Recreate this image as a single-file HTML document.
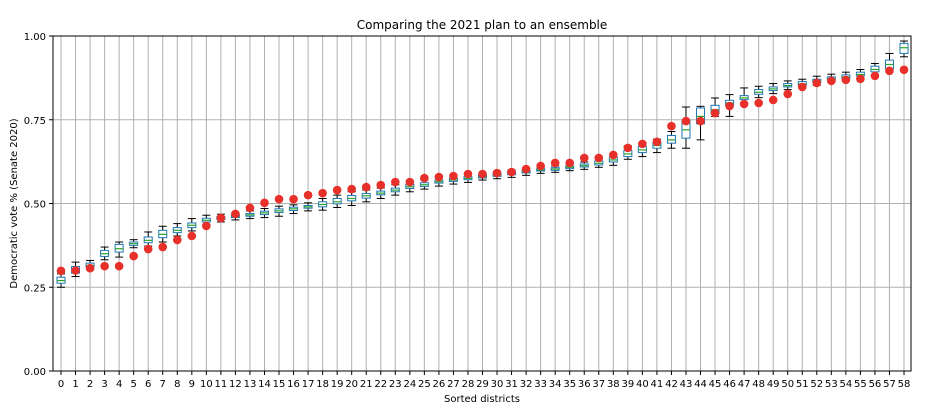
<!DOCTYPE html>
<html><head><meta charset="utf-8">
<style>
html,body{margin:0;padding:0;background:#fff;}
svg{display:block;font-family:"DejaVu Sans","Liberation Sans",sans-serif;}
</style></head>
<body>
<svg id="chart" width="942" height="418" viewBox="0 0 942 418"></svg>
<script>
const districts = [0,1,2,3,4,5,6,7,8,9,10,11,12,13,14,15,16,17,18,19,20,21,22,23,24,25,26,27,28,29,30,31,32,33,34,35,36,37,38,39,40,41,42,43,44,45,46,47,48,49,50,51,52,53,54,55,56,57,58];
const planValues = [0.299,0.300,0.307,0.313,0.313,0.343,0.364,0.370,0.391,0.403,0.433,0.457,0.469,0.487,0.502,0.513,0.513,0.525,0.531,0.540,0.543,0.549,0.555,0.564,0.564,0.576,0.579,0.582,0.588,0.588,0.591,0.594,0.603,0.612,0.621,0.621,0.636,0.636,0.645,0.666,0.678,0.684,0.731,0.746,0.746,0.770,0.791,0.797,0.800,0.809,0.827,0.848,0.860,0.866,0.869,0.872,0.881,0.896,0.899];
const medians = [0.270,0.300,0.315,0.350,0.365,0.380,0.390,0.408,0.420,0.435,0.450,0.456,0.462,0.466,0.472,0.478,0.484,0.490,0.497,0.505,0.515,0.523,0.531,0.540,0.550,0.556,0.565,0.570,0.575,0.580,0.585,0.590,0.595,0.600,0.603,0.608,0.613,0.620,0.630,0.648,0.660,0.673,0.690,0.720,0.760,0.780,0.800,0.815,0.832,0.842,0.852,0.857,0.865,0.872,0.878,0.885,0.900,0.915,0.965];
const q1 = [0.262,0.292,0.310,0.342,0.355,0.375,0.383,0.398,0.413,0.428,0.445,0.452,0.458,0.462,0.467,0.473,0.479,0.486,0.490,0.499,0.508,0.516,0.526,0.535,0.545,0.551,0.561,0.566,0.571,0.576,0.581,0.586,0.591,0.597,0.599,0.604,0.609,0.615,0.624,0.640,0.652,0.665,0.680,0.695,0.738,0.768,0.793,0.810,0.826,0.837,0.848,0.853,0.861,0.868,0.874,0.881,0.893,0.902,0.948];
const q3 = [0.280,0.312,0.322,0.360,0.378,0.385,0.400,0.420,0.428,0.442,0.456,0.461,0.466,0.470,0.477,0.484,0.489,0.494,0.505,0.515,0.524,0.530,0.537,0.546,0.557,0.562,0.570,0.575,0.580,0.585,0.590,0.595,0.600,0.604,0.607,0.612,0.618,0.627,0.638,0.658,0.670,0.682,0.703,0.748,0.785,0.793,0.808,0.822,0.840,0.848,0.858,0.864,0.871,0.878,0.884,0.892,0.910,0.928,0.978];
const whiskerLo = [0.250,0.282,0.302,0.332,0.340,0.368,0.373,0.385,0.403,0.418,0.438,0.445,0.451,0.455,0.458,0.462,0.470,0.478,0.480,0.488,0.494,0.505,0.515,0.525,0.535,0.543,0.552,0.558,0.563,0.570,0.574,0.578,0.584,0.590,0.593,0.598,0.602,0.608,0.614,0.632,0.640,0.652,0.665,0.665,0.690,0.760,0.760,0.800,0.816,0.828,0.840,0.845,0.853,0.862,0.866,0.872,0.885,0.896,0.938];
const whiskerHi = [0.290,0.325,0.330,0.370,0.385,0.392,0.415,0.432,0.440,0.455,0.465,0.468,0.472,0.478,0.485,0.492,0.496,0.502,0.515,0.525,0.535,0.540,0.546,0.556,0.567,0.570,0.578,0.583,0.587,0.592,0.596,0.600,0.604,0.608,0.612,0.618,0.624,0.634,0.646,0.672,0.682,0.692,0.715,0.788,0.790,0.815,0.825,0.845,0.850,0.858,0.866,0.871,0.880,0.886,0.892,0.900,0.918,0.948,0.985];
const yTicks = [0,0.25,0.5,0.75,1.0];
const yTickLabels = ["0.00","0.25","0.50","0.75","1.00"];

const NS="http://www.w3.org/2000/svg";
const svg=document.getElementById('chart');
const L=53,R=911,T=36,B=371;
const x0=61,x58=904;
function xs(i){return x0+(x58-x0)*i/58;}
function ys(v){return B-(B-T)*v;}
function mk(tag,attrs,parent){const e=document.createElementNS(NS,tag);for(const k in attrs)e.setAttribute(k,attrs[k]);(parent||svg).appendChild(e);return e;}

const grid=mk('g',{});


districts.forEach((d,i)=>{mk('line',{x1:xs(i),x2:xs(i),y1:T,y2:B,stroke:'#b0b0b0','stroke-width':1},grid);});
yTicks.forEach(v=>{mk('line',{x1:L,x2:R,y1:ys(v),y2:ys(v),stroke:'#b0b0b0','stroke-width':1},grid);});

const frame=mk('rect',{x:L,y:T,width:R-L,height:B-T,fill:'none',stroke:'#000','stroke-width':1});



const yAxis=mk('g',{});


yTicks.forEach((v,i)=>{
  mk('line',{x1:L-4,x2:L,y1:ys(v),y2:ys(v),stroke:'#000'},yAxis);
  const t=mk('text',{x:L-7,y:ys(v)+4,'text-anchor':'end','font-size':10,fill:'#000'},yAxis);
  t.textContent=yTickLabels[i];
  
  
});
const xAxis=mk('g',{});


districts.forEach((d,i)=>{
  mk('line',{x1:xs(i),x2:xs(i),y1:B,y2:B+4,stroke:'#000'},xAxis);
  const t=mk('text',{x:xs(i),y:B+16,'text-anchor':'middle','font-size':10,fill:'#000'},xAxis);
  t.textContent=String(d);
  
  
});

const boxes=mk('g',{});


const bw=8,cw=4;
districts.forEach((d,i)=>{
  const g=mk('g',{},boxes);
  
  
  const x=xs(i);
  mk('line',{x1:x,x2:x,y1:ys(q3[i]),y2:ys(whiskerHi[i]),stroke:'#000','stroke-width':1},g);
  mk('line',{x1:x,x2:x,y1:ys(q1[i]),y2:ys(whiskerLo[i]),stroke:'#000','stroke-width':1},g);
  mk('line',{x1:x-cw,x2:x+cw,y1:ys(whiskerHi[i]),y2:ys(whiskerHi[i]),stroke:'#000','stroke-width':1},g);
  mk('line',{x1:x-cw,x2:x+cw,y1:ys(whiskerLo[i]),y2:ys(whiskerLo[i]),stroke:'#000','stroke-width':1},g);
  mk('rect',{x:x-bw/2,y:ys(q3[i]),width:bw,height:Math.max(1,ys(q1[i])-ys(q3[i])),fill:'#fff',stroke:'#1f77b4','stroke-width':1},g);
  mk('line',{x1:x-bw/2,x2:x+bw/2,y1:ys(medians[i]),y2:ys(medians[i]),stroke:'#2ca02c','stroke-width':1.2},g);
});

const dots=mk('g',{});


districts.forEach((d,i)=>{
  const c=mk('circle',{cx:xs(i),cy:ys(planValues[i]),r:4.3,fill:'#e8302a'},dots);
  
  
});

const title=mk('text',{x:(L+R)/2,y:29,'text-anchor':'middle','font-size':12,fill:'#000'});
title.textContent='Comparing the 2021 plan to an ensemble';


const xt=mk('text',{x:(L+R)/2,y:402,'text-anchor':'middle','font-size':10,fill:'#000'});
xt.textContent='Sorted districts';


const yt=mk('text',{x:0,y:0,'text-anchor':'middle','font-size':10,fill:'#000',transform:'translate(17,'+((T+B)/2)+') rotate(-90)'});
yt.textContent='Democratic vote % (Senate 2020)';


</script>
</body></html>
